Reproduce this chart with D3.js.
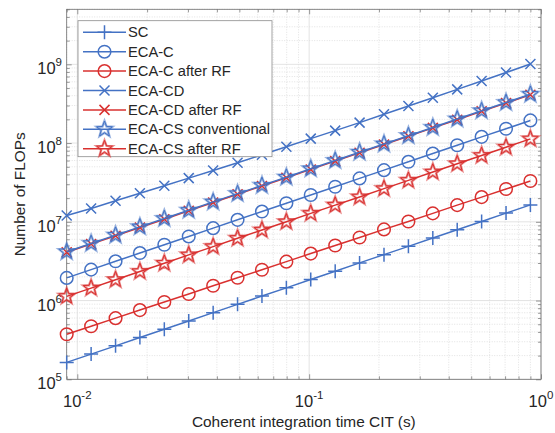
<!DOCTYPE html>
<html>
<head>
<meta charset="utf-8">
<script src="https://cdn.jsdelivr.net/npm/d3@7"></script>
<style>
  body { margin: 0; background: #fff; }
  svg { display: block; font-family: "Liberation Sans", Arial, sans-serif; }
</style>
</head>
<body>
<div id="chart"></div>
<script>
// coherent integration time (s)
const cit = [0.009, 0.01147, 0.01462, 0.01862, 0.02373, 0.03024, 0.03854, 0.04911, 0.06258, 0.07975,
  0.1016, 0.1295, 0.1650, 0.2103, 0.2680, 0.3415, 0.4351, 0.5545, 0.7066, 0.9];

const sc = [1.64e5, 2.09e5, 2.66e5, 3.39e5, 4.32e5, 5.51e5, 7.02e5, 8.95e5, 1.14e6, 1.45e6,
  1.85e6, 2.36e6, 3.01e6, 3.83e6, 4.88e6, 6.22e6, 7.93e6, 1.01e7, 1.29e7, 1.64e7];
const ecaC = [1.94e6, 2.47e6, 3.15e6, 4.01e6, 5.12e6, 6.52e6, 8.31e6, 1.06e7, 1.35e7, 1.72e7,
  2.19e7, 2.79e7, 3.56e7, 4.53e7, 5.78e7, 7.36e7, 9.38e7, 1.20e8, 1.52e8, 1.94e8];
const ecaCRF = [3.73e5, 4.72e5, 5.98e5, 7.57e5, 9.58e5, 1.21e6, 1.54e6, 1.95e6, 2.46e6, 3.12e6,
  3.95e6, 5.00e6, 6.33e6, 8.01e6, 1.01e7, 1.28e7, 1.63e7, 2.06e7, 2.61e7, 3.30e7];
const ecaCD = [1.20e7, 1.48e7, 1.85e7, 2.30e7, 2.87e7, 3.59e7, 4.49e7, 5.62e7, 7.10e7, 8.97e7,
  1.14e8, 1.44e8, 1.82e8, 2.32e8, 2.95e8, 3.77e8, 4.81e8, 6.15e8, 7.87e8, 1.01e9];
const ecaCDRF = [4.10e6, 5.22e6, 6.66e6, 8.48e6, 1.08e7, 1.38e7, 1.76e7, 2.24e7, 2.85e7, 3.63e7,
  4.63e7, 5.90e7, 7.52e7, 9.58e7, 1.22e8, 1.56e8, 1.98e8, 2.53e8, 3.22e8, 4.10e8];
const ecaCS = [4.17e6, 5.31e6, 6.77e6, 8.63e6, 1.10e7, 1.40e7, 1.79e7, 2.28e7, 2.90e7, 3.69e7,
  4.71e7, 6.00e7, 7.65e7, 9.74e7, 1.24e8, 1.58e8, 2.02e8, 2.57e8, 3.27e8, 4.17e8];
const ecaCSRF = [1.13e6, 1.44e6, 1.84e6, 2.34e6, 2.98e6, 3.80e6, 4.84e6, 6.17e6, 7.86e6, 1.00e7,
  1.28e7, 1.63e7, 2.07e7, 2.64e7, 3.36e7, 4.29e7, 5.46e7, 6.96e7, 8.87e7, 1.13e8];

const seriesNames = ["SC", "ECA-C", "ECA-C after RF", "ECA-CD", "ECA-CD after RF",
  "ECA-CS conventional", "ECA-CS after RF"];
const seriesValues = [sc, ecaC, ecaCRF, ecaCD, ecaCDRF, ecaCS, ecaCSRF];
const seriesMarkers = ["plus", "circle", "circle", "cross", "cross", "star", "star"];
const seriesColors = ["blue", "blue", "red", "blue", "red", "blue", "red"];

const xTicks = [0.01, 0.1, 1];
const yTicks = [1e5, 1e6, 1e7, 1e8, 1e9];

const W = 555, H = 433;
const mLeft = 66.7, mRight = 541, mTop = 9.3, mBottom = 379.3;
const colors = { blue: "#4472c4", red: "#d9302f" };
const textColor = "#262626";
const axisColor = "#6e6e6e";

const x = d3.scaleLog().domain([0.009, 1]).range([mLeft, mRight]);
const y = d3.scaleLog().domain([1e5, 5e9]).range([mBottom, mTop]);

const svg = d3.select("#chart").append("svg")
  .attr("width", W).attr("height", H);

// minor tick values
const xMinor = [];
for (const p of [-3, -2, -1]) for (let k = 2; k <= 9; k++) {
  const v = k * Math.pow(10, p);
  if (v >= 0.009 && v <= 1) xMinor.push(v);
}
const yMinor = [];
for (let p = 5; p <= 9; p++) for (let k = 2; k <= 9; k++) {
  const v = k * Math.pow(10, p);
  if (v <= 5e9) yMinor.push(v);
}

// grid
const grid = svg.append("g");
grid.selectAll(".xm").data(xMinor).join("line")
  .attr("x1", d => x(d)).attr("x2", d => x(d)).attr("y1", mTop).attr("y2", mBottom)
  .attr("stroke", "#d6d6d6").attr("stroke-width", 0.7).attr("stroke-dasharray", "1,1.5");
grid.selectAll(".ym").data(yMinor).join("line")
  .attr("y1", d => y(d)).attr("y2", d => y(d)).attr("x1", mLeft).attr("x2", mRight)
  .attr("stroke", "#d6d6d6").attr("stroke-width", 0.7).attr("stroke-dasharray", "1,1.5");
grid.selectAll(".xM").data(xTicks).join("line")
  .attr("x1", d => x(d)).attr("x2", d => x(d)).attr("y1", mTop).attr("y2", mBottom)
  .attr("stroke", "#dcdcdc").attr("stroke-width", 0.8);
grid.selectAll(".yM").data(yTicks).join("line")
  .attr("y1", d => y(d)).attr("y2", d => y(d)).attr("x1", mLeft).attr("x2", mRight)
  .attr("stroke", "#dcdcdc").attr("stroke-width", 0.8);

// axes with inward ticks on all four sides
const ax = svg.append("g");
const addAxis = (gen, tx, ty) => {
  const g = ax.append("g").attr("transform", `translate(${tx},${ty})`).call(gen);
  g.selectAll("text").remove();
  g.select(".domain").remove();
  g.selectAll("line").attr("stroke", axisColor).attr("stroke-width", 0.7);
};
addAxis(d3.axisBottom(x).tickValues(xTicks).tickSize(-5), 0, mBottom);
addAxis(d3.axisBottom(x).tickValues(xMinor).tickSize(-3), 0, mBottom);
addAxis(d3.axisTop(x).tickValues(xTicks).tickSize(-5), 0, mTop);
addAxis(d3.axisTop(x).tickValues(xMinor).tickSize(-3), 0, mTop);
addAxis(d3.axisLeft(y).tickValues(yTicks).tickSize(-5), mLeft, 0);
addAxis(d3.axisLeft(y).tickValues(yMinor).tickSize(-3), mLeft, 0);
addAxis(d3.axisRight(y).tickValues(yTicks).tickSize(-5), mRight, 0);
addAxis(d3.axisRight(y).tickValues(yMinor).tickSize(-3), mRight, 0);
ax.append("rect").attr("x", mLeft).attr("y", mTop)
  .attr("width", mRight - mLeft).attr("height", mBottom - mTop)
  .attr("fill", "none").attr("stroke", axisColor).attr("stroke-width", 0.8);

// tick labels
const exp = v => Math.round(Math.log10(v));
const tl = svg.append("g").attr("fill", textColor).attr("font-size", 16.5);
xTicks.forEach(v => {
  const t = tl.append("text").attr("x", x(v)).attr("y", 406.5).attr("text-anchor", "middle");
  t.append("tspan").text("10");
  t.append("tspan").attr("dy", -8).attr("font-size", 11.5).text(exp(v));
});
yTicks.forEach(v => {
  const t = tl.append("text").attr("x", 62).attr("y", y(v) + 10).attr("text-anchor", "end");
  t.append("tspan").text("10");
  t.append("tspan").attr("dy", -8).attr("font-size", 11.5).text(exp(v));
});

// axis titles
svg.append("text").attr("x", (mLeft + mRight) / 2).attr("y", 427)
  .attr("text-anchor", "middle").attr("fill", textColor).attr("font-size", 15.4)
  .text("Coherent integration time CIT (s)");
svg.append("text").attr("transform", `translate(25,${(mTop + mBottom) / 2}) rotate(-90)`)
  .attr("text-anchor", "middle").attr("fill", textColor).attr("font-size", 15.4)
  .text("Number of FLOPs");

// markers
function starPath(r) {
  const pts = [];
  for (let i = 0; i < 10; i++) {
    const rr = i % 2 === 0 ? r : r * 0.42;
    const a = -Math.PI / 2 + i * Math.PI / 5;
    pts.push([rr * Math.cos(a), rr * Math.sin(a)]);
  }
  return "M" + pts.map(p => p[0].toFixed(2) + "," + p[1].toFixed(2)).join("L") + "Z";
}
function drawMarker(g, type, cx, cy, color) {
  const m = g.append("g").attr("transform", `translate(${cx},${cy})`)
    .attr("stroke", color).attr("fill", "none").attr("stroke-width", 1.5);
  if (type === "plus") {
    m.append("path").attr("d", "M-7,0H7M0,-7V7");
  } else if (type === "circle") {
    m.append("circle").attr("r", 6.3);
  } else if (type === "cross") {
    m.append("path").attr("d", "M-5,-5L5,5M-5,5L5,-5");
  } else if (type === "star") {
    m.append("path").attr("d", starPath(8.3)).attr("stroke-width", 2.4).attr("stroke-opacity", 0.55);
    m.append("path").attr("d", starPath(8.3)).attr("stroke-width", 1);
  }
}

const line = d3.line().x(d => x(d[0])).y(d => y(d[1]));
const plot = svg.append("g");
seriesValues.forEach((vals, i) => {
  const col = colors[seriesColors[i]];
  const pts = cit.map((c, j) => [c, vals[j]]);
  const g = plot.append("g");
  g.append("path").attr("d", line(pts)).attr("fill", "none")
    .attr("stroke", col).attr("stroke-width", 1.5);
  pts.forEach(p => drawMarker(g, seriesMarkers[i], x(p[0]), y(p[1]), col));
});

// legend
const lg = svg.append("g");
lg.append("rect").attr("x", 78).attr("y", 20.7).attr("width", 194).attr("height", 136)
  .attr("fill", "#fff").attr("stroke", "#8c8c8c").attr("stroke-width", 0.8);
seriesNames.forEach((name, i) => {
  const ry = 32.3 + i * 19.4;
  const col = colors[seriesColors[i]];
  lg.append("line").attr("x1", 83).attr("x2", 126).attr("y1", ry).attr("y2", ry)
    .attr("stroke", col).attr("stroke-width", 1.5);
  drawMarker(lg, seriesMarkers[i], 104.5, ry, col);
  lg.append("text").attr("x", 128).attr("y", ry + 5).attr("font-size", 14.7)
    .attr("fill", textColor).text(name);
});
</script>
</body>
</html>
